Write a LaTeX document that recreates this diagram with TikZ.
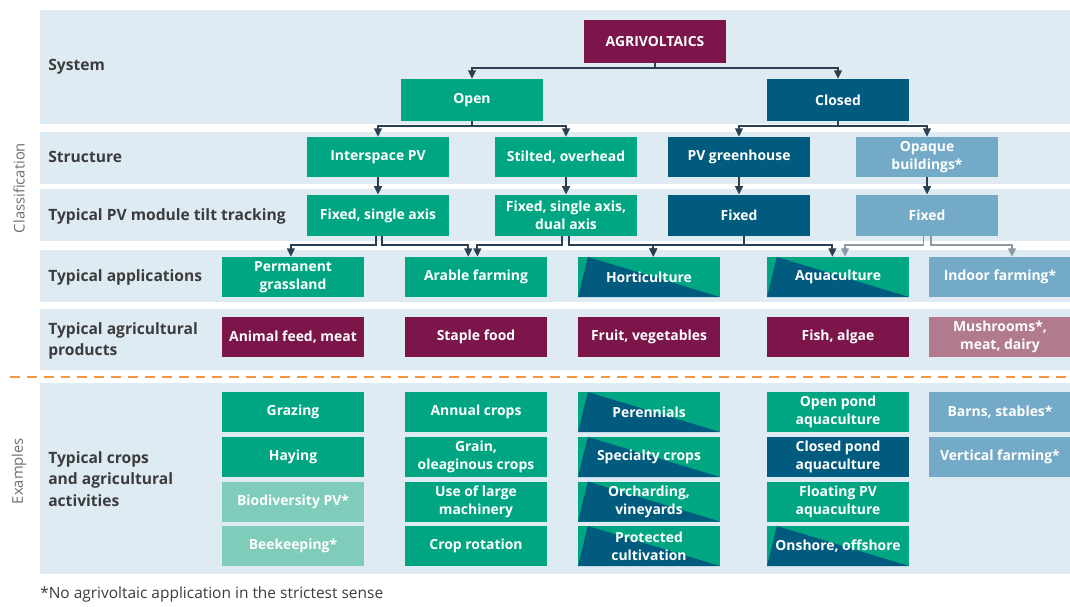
\documentclass[tikz,border=0pt]{standalone}
\usepackage{fontspec}
\setmainfont{Open Sans}
\usetikzlibrary{arrows.meta}

\definecolor{agrigreen}{RGB}{0,166,130}
\definecolor{agriblue}{RGB}{0,91,127}
\definecolor{paleblue}{RGB}{115,170,200}
\definecolor{wine}{RGB}{124,21,74}
\definecolor{palewine}{RGB}{178,122,142}
\definecolor{palegreen}{RGB}{127,204,186}
\definecolor{bandblue}{RGB}{223,235,243}
\definecolor{linkdark}{RGB}{42,64,80}
\definecolor{linkgrey}{RGB}{140,152,162}
\definecolor{dashorange}{RGB}{243,150,70}
\definecolor{labelgray}{RGB}{60,60,60}
\definecolor{sidegray}{RGB}{110,110,110}

\tikzset{
  band/.style={fill=bandblue},
  greenbox/.style={fill=agrigreen, text=white, minimum width=3.55cm, minimum height=1cm,
    inner sep=0pt, align=center, font=\fontsize{9.9}{12.8}\selectfont\bfseries},
  bluebox/.style={greenbox, fill=agriblue},
  lightbox/.style={greenbox, fill=paleblue},
  winebox/.style={greenbox, fill=wine},
  palewinebox/.style={greenbox, fill=palewine},
  palegreenbox/.style={greenbox, fill=palegreen},
  splitbox/.style={greenbox, path picture={
    \fill[agriblue] ([xshift=7pt]path picture bounding box.north west)
      -- (path picture bounding box.south east)
      -- (path picture bounding box.south west) -- cycle;}},
  rowlabel/.style={anchor=west, inner sep=0pt, align=left, text=labelgray,
    font=\fontsize{11.1}{15.4}\selectfont\bfseries},
  sidelabel/.style={rotate=90, inner sep=0pt, text=sidegray, font=\fontsize{10.5}{12}\selectfont},
  link/.style={draw=linkdark, line width=1.4pt, -{Triangle[width=5.5pt,length=6pt]}},
  greylink/.style={link, draw=linkgrey}
}

\begin{document}
\begin{tikzpicture}[x=0.025cm, y=-0.025cm]
\useasboundingbox (0,0) rectangle (1070,606);

% background bands
\fill[band] (40,10) rectangle (1070,124);
\fill[band] (40,132) rectangle (1070,184);
\fill[band] (40,189) rectangle (1070,241);
\fill[band] (40,250) rectangle (1070,302);
\fill[band] (40,309) rectangle (1070,370);
\fill[band] (40,383) rectangle (1070,574);
\draw[dashorange, line width=1.5pt, dash pattern=on 7pt off 5pt] (10,377) -- (1070,377);

% side and row labels
\node[sidelabel] (classif) at (19,188) {Classification};
\node[sidelabel] (exmpl) at (19,471) {Examples};
\node[rowlabel] (lsystem) at (48,67) {System};
\node[rowlabel] (lstruct) at (48,157) {Structure};
\node[rowlabel] (ltilt) at (48,216) {Typical PV module tilt tracking};
\node[rowlabel] (lapps) at (48,277) {Typical applications};
\node[rowlabel] (lprod) at (48,341) {Typical agricultural\\products};
\node[rowlabel] (lcrops) at (48,479) {Typical crops\\and agricultural\\activities};

% system
\node[winebox, minimum height=1.07cm] (agri) at (655,41.5) {AGRIVOLTAICS};
\node[greenbox, minimum height=1.05cm] (open) at (472,100) {Open};
\node[bluebox, minimum height=1.05cm] (closed) at (838,100) {Closed};

% structure
\node[greenbox] (inter) at (378,157) {Interspace PV};
\node[greenbox] (stilt) at (566,157) {Stilted, overhead};
\node[bluebox] (greenh) at (739,157) {PV greenhouse};
\node[lightbox] (opaque) at (927,157) {Opaque\\buildings*};

% tilt tracking
\node[greenbox, minimum height=1.03cm] (tiltA) at (378,215.5) {Fixed, single axis};
\node[greenbox, minimum height=1.03cm] (tiltB) at (566,215.5) {Fixed, single axis,\\dual axis};
\node[bluebox, minimum height=1.03cm] (tiltC) at (739,215.5) {Fixed};
\node[lightbox, minimum height=1.03cm] (tiltD) at (927,215.5) {Fixed};

% applications
\node[greenbox] (grass) at (293,277) {Permanent\\grassland};
\node[greenbox] (arable) at (476,277) {Arable farming};
\node[splitbox] (horti) at (649,277) {Horticulture};
\node[splitbox] (aqua) at (838,277) {Aquaculture};
\node[lightbox] (indoor) at (1000,277) {Indoor farming*};

% products
\node[winebox] (feed) at (293,337) {Animal feed, meat};
\node[winebox] (staple) at (476,337) {Staple food};
\node[winebox] (fruit) at (649,337) {Fruit, vegetables};
\node[winebox] (fish) at (838,337) {Fish, algae};
\node[palewinebox] (mush) at (1000,337) {Mushrooms*,\\meat, dairy};

% examples
\node[greenbox] (graze) at (293,412) {Grazing};
\node[greenbox] (hay) at (293,457) {Haying};
\node[palegreenbox] (biodiv) at (293,501.5) {Biodiversity PV*};
\node[palegreenbox] (bees) at (293,546) {Beekeeping*};

\node[greenbox] (annual) at (476,412) {Annual crops};
\node[greenbox] (grain) at (476,457) {Grain,\\oleaginous crops};
\node[greenbox] (machine) at (476,501.5) {Use of large\\machinery};
\node[greenbox] (rotat) at (476,546) {Crop rotation};

\node[splitbox] (perenn) at (649,412) {Perennials};
\node[splitbox] (special) at (649,457) {Specialty crops};
\node[splitbox] (orchard) at (649,501.5) {Orcharding,\\vineyards};
\node[splitbox] (protect) at (649,546) {Protected\\cultivation};

\node[greenbox] (openpond) at (838,412) {Open pond\\aquaculture};
\node[bluebox] (closedpond) at (838,457) {Closed pond\\aquaculture};
\node[greenbox] (floating) at (838,501.5) {Floating PV\\aquaculture};
\node[splitbox] (shore) at (838,546) {Onshore, offshore};

\node[lightbox] (barns) at (1000,412) {Barns, stables*};
\node[lightbox] (vertical) at (1000,457) {Vertical farming*};

\node[anchor=west, inner sep=0pt, text=labelgray, font=\fontsize{11}{12}\selectfont] (note) at (40,594)
  {*No agrivoltaic application in the strictest sense};

% tree connectors
\draw[link] (agri.south) -- ++(0,5) -| (open.north);
\draw[link] (agri.south) -- ++(0,5) -| (closed.north);
\draw[link] (open.south) -- ++(0,5) -| (inter.north);
\draw[link] (open.south) -- ++(0,5) -| (stilt.north);
\draw[link] (closed.south) -- ++(0,5) -| (greenh.north);
\draw[link] (closed.south) -- ++(0,5) -| (opaque.north);
\draw[link] (inter.south) -- (tiltA.north);
\draw[link] (stilt.south) -- (tiltB.north);
\draw[link] (greenh.south) -- (tiltC.north);
\draw[link] (opaque.south) -- (tiltD.north);

% tracking to applications
\draw[link] ([xshift=-1.5pt]tiltA.south) -- ++(0,9) -| ([xshift=-1.5pt]grass.north);
\draw[link] ([xshift=3pt]tiltA.south) -- ++(0,9) -| ([xshift=-5.5pt]arable.north);
\draw[link] ([xshift=-3pt]tiltB.south) -- ++(0,9) -| ([xshift=1pt]arable.north);
\draw[link] ([xshift=2pt]tiltB.south) -- ++(0,9) -| ([xshift=3pt]horti.north);
\draw[link] ([xshift=3.5pt]tiltC.south) -- ++(0,9) -| ([xshift=3pt]horti.north);
\draw[link] ([xshift=3.5pt]tiltC.south) -- ++(0,9) -| ([xshift=-4pt]aqua.north);
\draw[greylink] ([xshift=-2.5pt]tiltD.south) -- ++(0,9) -| ([xshift=5pt]aqua.north);
\draw[greylink] ([xshift=2.5pt]tiltD.south) -- ++(0,9) -| ([xshift=8.5pt]indoor.north);
\end{tikzpicture}
\end{document}
